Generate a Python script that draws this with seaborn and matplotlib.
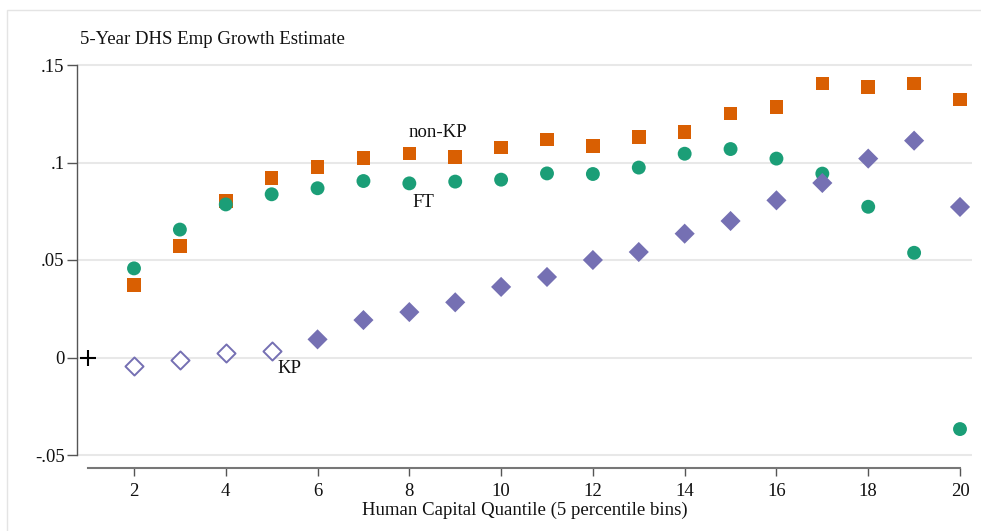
import matplotlib
matplotlib.use("Agg")
import matplotlib.pyplot as plt
import seaborn as sns
import pandas as pd
import numpy as np
from matplotlib.patches import Rectangle

# ---- data ----
quantile = list(range(2, 21))
non_kp = [0.0372, 0.0572, 0.0803, 0.0920, 0.0977, 0.1023, 0.1045, 0.1027, 0.1078,
          0.1119, 0.1085, 0.1131, 0.1156, 0.1252, 0.1285, 0.1406, 0.1386, 0.1406, 0.1322]
ft = [0.0457, 0.0656, 0.0785, 0.0837, 0.0868, 0.0905, 0.0893, 0.0902, 0.0912,
      0.0944, 0.0941, 0.0974, 0.1045, 0.1069, 0.1020, 0.0943, 0.0773, 0.0537, -0.0367]
kp = [-0.0044, -0.0013, 0.0025, 0.0035, 0.0093, 0.0192, 0.0233, 0.0283, 0.0362,
      0.0413, 0.0500, 0.0541, 0.0635, 0.0700, 0.0806, 0.0895, 0.1020, 0.1112, 0.0772]
kp_significant = [False, False, False, False] + [True] * 15
ref_x = [1]
ref_y = [0.0]

title = "5-Year DHS Emp Growth Estimate"
xlabel = "Human Capital Quantile (5 percentile bins)"
xticks = [2, 4, 6, 8, 10, 12, 14, 16, 18, 20]
yticks = [-0.05, 0.0, 0.05, 0.10, 0.15]
yticklabels = ["-.05", "0", ".05", ".1", ".15"]
labels = {"non-KP": (8.62, 0.1155), "FT": (8.3, 0.0795), "KP": (5.38, -0.0055)}

df = pd.DataFrame({"q": quantile, "nonkp": non_kp, "ft": ft, "kp": kp, "sig": kp_significant})

ORANGE = "#D95F02"
GREEN = "#1B9E77"
PURPLE = "#7570B3"
FS = 13.5

sns.set_theme(style="white")
plt.rcParams["font.family"] = ["Liberation Serif", "DejaVu Serif"]

W, H = 981, 531
fig = plt.figure(figsize=(W / 100, H / 100), dpi=100)
fig.patch.set_facecolor("white")

# faint outer frame (left/top visible)
fig.patches.append(Rectangle((7 / W, -0.1), 1.2, 1 - 10 / H + 0.1, transform=fig.transFigure,
                             fill=False, edgecolor="#e4e4e4", lw=1.0))

left, right, top, bottom = 77, 972, 60, 468
ax = fig.add_axes([left / W, 1 - bottom / H, (right - left) / W, (bottom - top) / H])
ax.set_facecolor("none")

px_per_x = (960 - 134) / 18
x0 = 2 + (left - 134) / px_per_x
x1 = 2 + (right - 134) / px_per_x
ax.set_xlim(x0, x1)
ax.set_ylim((357.5 - bottom) / 1950, (357.5 - top) / 1950)

for yv in yticks:
    ax.axhline(yv, color="#e8e8e8", lw=1.5, zorder=0)

sns.scatterplot(data=df, x="q", y="nonkp", marker="s", s=95, color=ORANGE,
                edgecolor="none", ax=ax, zorder=3)
sns.scatterplot(data=df, x="q", y="ft", marker="o", s=100, color=GREEN,
                edgecolor="none", ax=ax, zorder=3)
sns.scatterplot(data=df[df["sig"]], x="q", y="kp", marker="D", s=105, color=PURPLE,
                edgecolor="none", ax=ax, zorder=4)
sns.scatterplot(data=df[~df["sig"]], x="q", y="kp", marker="D", s=85, facecolor="white",
                edgecolor=PURPLE, linewidth=1.4, ax=ax, zorder=4)
ax.scatter(ref_x, ref_y, marker="+", s=120, color="black", linewidths=1.5, zorder=5)

for txt, (lx, ly) in labels.items():
    ax.text(lx, ly, txt, fontsize=FS, ha="center", va="center", color="#111111")

for s in ["top", "right"]:
    ax.spines[s].set_visible(False)
ax.spines["left"].set_bounds(-0.05, 0.15)
ax.spines["left"].set_color("#555555")
ax.spines["left"].set_linewidth(1.0)
ax.spines["bottom"].set_bounds(1.0, 20)
ax.spines["bottom"].set_color("#777777")
ax.spines["bottom"].set_linewidth(1.5)

ax.set_xticks(xticks)
ax.set_xticklabels([str(t) for t in xticks])
ax.set_yticks(yticks)
ax.set_yticklabels(yticklabels)
ax.tick_params(axis="both", direction="out", width=1.0, color="#555555",
               labelsize=FS, labelcolor="#111111", bottom=True, left=True)
ax.tick_params(axis="y", length=7, pad=2)
ax.tick_params(axis="x", length=6, pad=5)
ax.grid(False)
ax.set_xlabel(xlabel, fontsize=FS, color="#111111", labelpad=1)
ax.set_ylabel("")

fig.text(80 / W, 1 - 39 / H, title, fontsize=FS, ha="left", va="center", color="#111111")

fig.savefig("out.png", dpi=100)
